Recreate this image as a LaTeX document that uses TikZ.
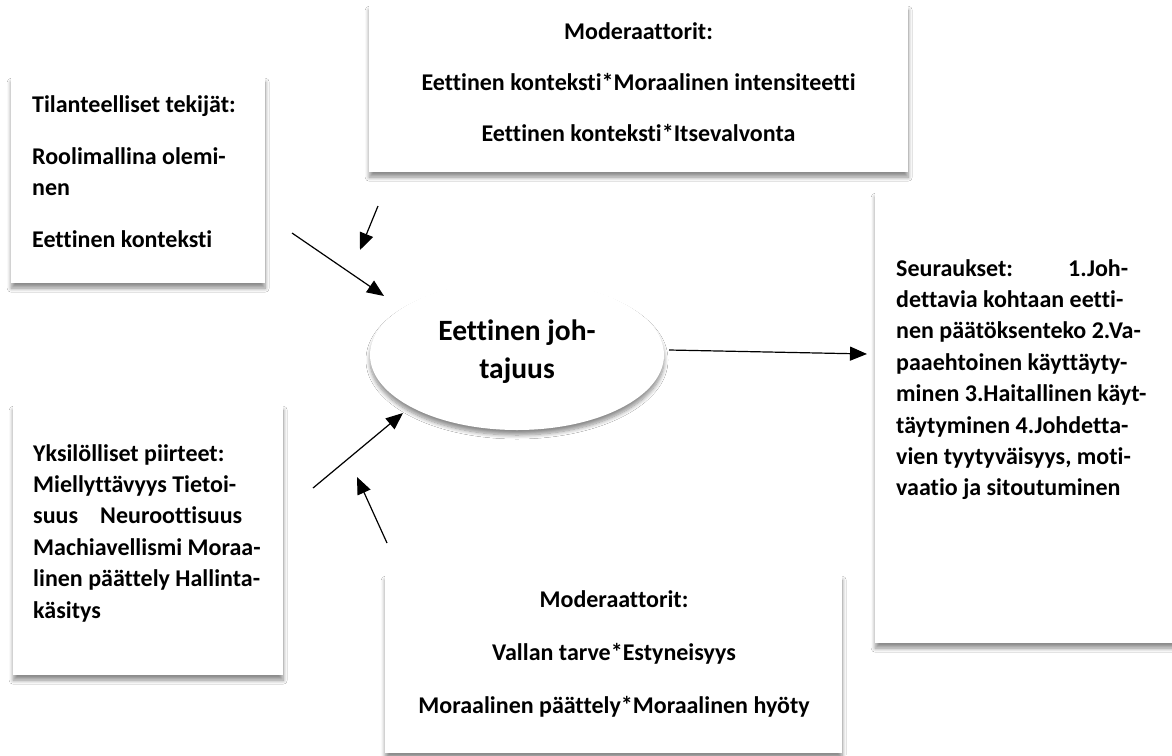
\documentclass[tikz,border=0pt]{standalone}
\usepackage{fontspec}
\setmainfont{Carlito}[Ligatures=NoCommon]
\usetikzlibrary{shadows.blur,arrows.meta,shapes.geometric}

\tikzset{
  shad/.style={blur shadow={shadow xshift=0pt, shadow yshift=-5pt, shadow blur radius=4pt, shadow opacity=45, shadow blur steps=8}},
  box/.style={draw=none, fill=white, inner sep=0pt, anchor=north west, shad},
  txt/.style={inner sep=0pt, font=\fontsize{24}{29}\selectfont\bfseries},
  lw/.style={txt, anchor=base west},
  lc/.style={txt, anchor=base},
  big/.style={inner sep=0pt, anchor=base, font=\fontsize{29.5}{38}\selectfont\bfseries},
  arr/.style={-{Triangle[length=17pt,width=14pt]}, line width=1.2pt},
  ell/.style={ellipse, draw=none, fill=white, minimum width=294pt, minimum height=150pt, shad},
}

\begin{document}
\begin{tikzpicture}[x=1pt,y=-1pt]
\useasboundingbox (0,0) rectangle (1172,755);
\clip (0,0) rectangle (1172,755);
\fill[white] (0,0) rectangle (1172,755);

% boxes
\node[box, minimum width=254pt, minimum height=206pt] (b1) at (11,77) {};
\node[box, minimum width=539pt, minimum height=167pt] (b2) at (369,5) {};
\node[box, minimum width=270pt, minimum height=270pt] (b3) at (13,405) {};
\node[box, minimum width=320pt, minimum height=451pt] (b4) at (875,192) {};
\node[box, minimum width=457pt, minimum height=178pt] (b5) at (385,575) {};
\node[ell] (e) at (517,355) {};

% box 1
\node[lw] (t11) at (32,112) {Tilanteelliset tekijät:};
\node[lw] (t12) at (32,164) {Roolimallina olemi-};
\node[lw] (t13) at (32,195.5) {nen};
\node[lw] (t14) at (32,247) {Eettinen konteksti};

% box 2
\node[lc] (t21) at (638.5,39) {Moderaattorit:};
\node[lc] (t22) at (638.5,90) {Eettinen konteksti*Moraalinen intensiteetti};
\node[lc] (t23) at (638.5,141) {Eettinen konteksti*Itsevalvonta};

% box 3
\node[lw] (t31) at (33,461) {Yksilölliset piirteet:};
\node[lw] (t32) at (33,492.4) {Miellyttävyys Tietoi-};
\node[lw] (t33) at (33,523.8) {\makebox[209pt][s]{suus Neuroottisuus}};
\node[lw] (t34) at (33,555.2) {Machiavellismi Moraa-};
\node[lw] (t35) at (33,586.6) {linen päättely Hallinta-};
\node[lw] (t36) at (33,618) {käsitys};

% box 4
\node[lw] (t41) at (896,276) {\makebox[232pt][s]{Seuraukset: 1.Joh-}};
\node[lw] (t42) at (896,307.4) {dettavia kohtaan eetti-};
\node[lw] (t43) at (896,338.8) {nen päätöksenteko 2.Va-};
\node[lw] (t44) at (896,370.2) {paaehtoinen käyttäyty-};
\node[lw] (t45) at (896,401.6) {minen 3.Haitallinen käyt-};
\node[lw] (t46) at (896,433) {täytyminen 4.Johdetta-};
\node[lw] (t47) at (896,464.4) {vien tyytyväisyys, moti-};
\node[lw] (t48) at (896,495.8) {vaatio ja sitoutuminen};

% box 5
\node[lc] (t51) at (614,607) {Moderaattorit:};
\node[lc] (t52) at (614,660) {Vallan tarve*Estyneisyys};
\node[lc] (t53) at (614,713) {Moraalinen päättely*Moraalinen hyöty};

% ellipse text
\node[big] (e1) at (517,340) {Eettinen joh-};
\node[big] (e2) at (517,378) {tajuus};

% arrows
\coordinate (a1s) at (292,233); \coordinate (a1e) at (384,296);
\coordinate (a2s) at (378,206); \coordinate (a2e) at (360,250);
\coordinate (a3s) at (313,488); \coordinate (a3e) at (403,413);
\coordinate (a4s) at (387,543); \coordinate (a4e) at (357,477);
\coordinate (a5s) at (669,350); \coordinate (a5e) at (867,354);
\draw[arr] (a1s) -- (a1e);
\draw[arr] (a2s) -- (a2e);
\draw[arr] (a3s) -- (a3e);
\draw[arr] (a4s) -- (a4e);
\draw[arr] (a5s) -- (a5e);
\end{tikzpicture}
\end{document}
